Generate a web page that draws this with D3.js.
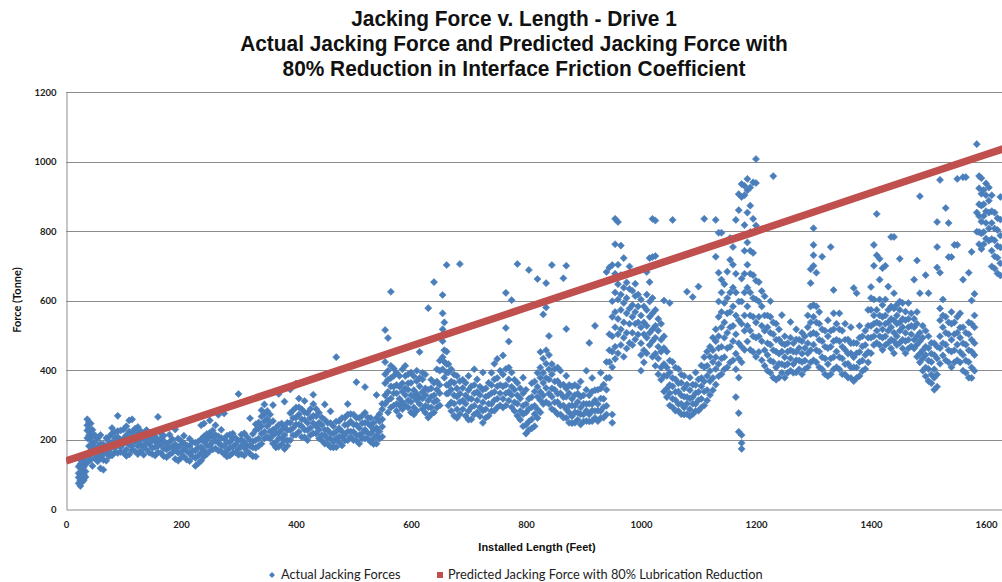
<!DOCTYPE html>
<html>
<head>
<meta charset="utf-8">
<script src="https://cdn.jsdelivr.net/npm/d3@7"></script>
<style>
  html, body { margin: 0; padding: 0; background: #fff; }
  svg { display: block; }
</style>
</head>
<body>
<svg id="chart" width="1002" height="582"></svg>
<script>
// Measured jacking force readings, grouped by stretch of the drive.
// Each row: [installed length (ft), force reading (tonne), force reading, ...]
const readings0to400 = [
  [22,74,91,103,122],[25,66,82,101,129,141],[28,78,96,114,127],[31,83,99,121,138],[34,92,108,131,149],
  [37,204,226,241,258,133],[40,181,212,233,249,152],[43,168,197,224,246,141],[46,161,183,209,228,124],
  [50,146,174,192,213],[55,137,152,178,203],[60,117,148,166,188,213],[65,113,141,157,186],[70,139,163,178,204],
  [75,152,166,193,208],[80,154,179,191,217,233],[85,163,176,204,221],[90,161,189,207,224,268],[95,164,177,198,226],
  [100,161,188,203,229],[105,153,171,199,212,238],[110,157,184,196,223,255],[115,169,181,209,221,258],[120,166,194,207,231],
  [125,158,181,198,219,236],[130,167,186,203,224],[135,156,179,201,214],[140,171,189,208,227],[145,162,187,204],
  [150,158,176,199,216],[155,154,178,194,209],[160,163,181,197,265],[165,161,186,203,218],[170,152,174,196,211],
  [175,149,171,187],[180,156,177,193,214],[185,162,178,201],[190,144,169,186,229],[195,139,162,178,203],
  [200,147,163,184,196],[205,151,172,189,211],[210,142,167,183],[215,138,159,181,202],[220,151,168,192],
  [225,124,147,168,191],[230,131,153,177,194],[235,139,162,178,201,241],[240,151,168,193,209,246],[245,158,182,198,216],
  [250,167,183,207,219,255],[255,171,192,208,226],[260,174,196,213,241],[265,168,191,209,271],[270,166,183,204,228],
  [275,158,181,202,275],[280,151,168,192,211],[285,154,177,193,214],[290,161,178,202,217],[295,163,186,204],
  [300,156,173,197,331],[305,158,182,199,214],[310,154,176,193,218],[315,166,183,207],[320,159,181,198,261],
  [325,152,177,194,216],[330,151,176,198,227,244],[335,181,203,232,249],[340,188,217,238,266,284],[345,203,222,252,273,301],
  [350,208,238,259,282],[355,202,223,248,272],[360,188,212,228,253,299],[365,177,193,218,233],[370,179,203,219,242,331],
  [375,186,204,227,246],[380,173,197,213,236,309],[385,182,198,227,248],[390,198,227,248,276,344],[395,212,233,262,284],
  [400,214,243,263,292,361]
];

const readings400to800 = [
  [405,222,243,272,293,318],[410,207,238,258,287],[415,206,228,257,278,311],[420,198,227,248,276],[425,212,233,262,288],
  [430,218,247,268,302,329],[435,217,238,267,288],[440,203,228,248,277],[445,197,213,242,263],[450,188,212,228,257,301],
  [455,187,203,227,248],[460,178,202,218,247,281],[465,177,193,217,238],[470,178,203,223,252,437],[475,192,208,232,253],
  [480,183,207,223,262],[485,197,213,242,263],[490,198,223,243,272,302],[495,207,223,252,273],[500,198,222,243,272],
  [505,197,213,242,263,365],[510,188,212,233,262],[515,202,218,247,268],[520,203,228,248,277,351],[525,202,218,247,263],
  [530,193,217,238,262],[535,187,203,227,248],[540,188,212,233,262,328],[545,202,223,252,273],[550,208,237,258,287,303],
  [555,302,327,362,388,423,515],[560,278,313,337,372,398,492],[565,292,318,353,377,412,625],[570,298,333,352,383,404],
  [575,282,302,333,357,392],[580,268,298,317,352,383],[585,287,307,338,362,402],[590,298,328,347,383,412],
  [595,292,312,343,362,388],[600,278,308,327,363,393],[605,272,292,323,342,382],[610,283,313,332,368,398],
  [615,302,322,353,377,452],[620,288,318,337,373,392],[625,277,297,328,347,387],[630,263,293,312,343,578],
  [635,272,292,323,347,372],[640,278,308,327,363,653],[645,292,312,343,367,402],[650,298,333,357,398,427],
  [655,402,437,483,517,563,616],[658,378,423,457,503,537],[662,332,357,393,417,453,702],[665,298,333,357,393,417],
  [670,282,307,343,367,402],[675,268,303,327,363,387],[680,262,287,323,347,383],[685,273,308,332,368,705],
  [690,287,312,348,372],[695,268,303,327,363],[700,257,282,318,342,383],[705,258,293,317,353],[710,272,297,333,357,402],
  [715,278,313,337,373],[720,267,292,328,352],[725,248,283,307,343,393],[730,262,287,323,347],[735,268,303,327,363],
  [740,282,302,333,357,392],[745,283,313,337,373,418],[750,292,317,353,377,432],[755,298,333,357,398],
  [760,292,317,353,387,442],[765,298,333,357,403,521,622],[770,312,337,373,407,482],[775,293,328,352,393,601],
  [780,282,307,343,372],[785,268,303,327,363,705],[790,257,282,318,347],[795,238,273,297,333,378],[800,217,242,278,302,343]
];

const readings800to1200 = [
  [805,227,252,288,317,688],[810,232,258,293,322,362],[815,238,273,297,338,367],[820,262,287,323,352,392,662],
  [825,278,313,337,378,407,452],[830,302,327,363,392,433,560],[835,308,348,377,418,457,580,650],[840,302,332,373,402,443,498],
  [845,288,323,347,388,417,702],[850,282,307,343,367,403],[855,273,308,332,368,407],[860,272,297,333,357,398],
  [865,263,298,322,358,664],[870,262,287,323,347,383,518,700],[875,248,278,297,333,357],[880,247,267,298,317,353],
  [885,248,278,297,328,357],[890,257,277,308,332,352],[895,243,273,292,323,367],[900,252,272,303,327],
  [905,253,283,302,343,398],[910,252,272,303,327,478],[915,253,283,302,338,377],[920,262,282,313,342,527],
  [925,253,283,302,343],[930,262,282,318,347,392],[935,263,293,317,358],[940,272,297,343,377,423,682],
  [945,378,423,457,503,695],[950,248,272,408,453,497,553,598,702],[955,432,467,523,567,623,677,762,835],
  [960,448,503,547,603,647,703,826],[965,472,517,573,617,673,758],[970,438,493,537,593,637,722],[975,462,507,563,607,652],
  [980,478,533,577,633,698],[985,472,507,553,587,628],[990,488,533,567,613,648],[995,502,537,583,617],
  [1000,398,443,477,523,557,603],[1005,422,457,503,537,583],[1010,448,493,527,573,617,682],[1015,472,507,553,597,653,722],
  [1020,438,483,517,563,607,725,835],[1025,412,447,493,527,573,728,830],[1030,388,433,467,513,547],[1035,372,407,453,487,533],
  [1040,338,383,417,463,497,600],[1045,322,347,383,407,453],[1050,298,333,357,393,427,593],[1055,292,317,353,377,423,832],
  [1060,283,313,337,373,407],[1065,282,302,338,362,403],[1070,273,303,327,363,387],[1075,272,292,323,347,383],
  [1080,273,303,322,358,625],[1085,267,287,318,342,378],[1090,273,303,322,358,610],[1095,282,302,333,357,393],
  [1100,283,313,337,373,640],[1105,292,317,353,377,413],[1110,298,338,367,408,437,835],[1115,312,342,383,412,453],
  [1120,328,368,397,438,467],[1125,342,377,423,457,493],[1130,358,403,437,483,517,832,726],[1135,382,417,463,497,553,597,795,680],
  [1140,388,433,467,523,567,623,795,660],[1145,402,437,493,537,593,647],[1150,408,463,507,563,607,683],
  [1155,422,467,523,567,623,717,780],[1160,428,483,527,583,637,703,754],[1165,402,447,503,557,623,677,322,832],
  [1170,378,433,477,543,597,276,222,906,860],[1175,213,190,173,422,467,533,597,663,898,935],
  [1180,458,513,557,623,677,743,817,903,930],[1185,482,527,583,637,703,767,853,917,950],
  [1190,458,513,557,623,677,743,797,873,925],[1195,452,497,553,607,673,737,835,940],[1200,438,493,537,603,657,816,938,1007]
];

const readings1200to1630 = [
  [1205,452,497,553,597,653],[1210,428,483,527,583,627],[1215,412,457,513,557,612],[1220,398,443,477,523,557],
  [1225,392,427,473,507,553,598],[1230,378,423,457,503,537,958],[1235,372,407,453,487,533],[1240,378,418,447,488,517],
  [1245,392,417,453,477,558],[1250,378,413,437,473,497],[1255,392,417,453,477],[1260,398,433,457,493,538],
  [1265,392,417,453,477],[1270,393,428,452,488,517],[1275,402,427,463,487],[1280,388,423,447,483,507],
  [1285,402,427,463,497],[1290,408,448,477,523,557],[1295,422,457,503,537,583,650,690],[1300,428,473,507,553,587,700,730,760,808],
  [1305,422,457,503,537,583,680],[1310,408,453,487,533,567],[1315,402,437,483,517,726],[1320,388,433,467,513],
  [1325,382,417,463,497,543],[1330,388,433,467,513,754],[1335,402,437,483,517,563,630],[1340,408,453,487,533],
  [1345,402,437,483,517,563],[1350,388,433,467,513],[1355,387,417,458,487,533],[1360,378,418,447,488],
  [1365,377,407,448,477,523],[1370,368,408,437,478,636],[1375,377,407,448,477,621],[1380,383,423,452,493,527],
  [1385,397,427,468,497],[1390,403,443,472,513],[1395,422,452,493,527,573],[1400,448,493,527,573,607,639],
  [1405,472,497,533,557,603,700,760],[1410,478,513,537,573,849,730],[1415,472,497,533,557,603,720,660],
  [1420,458,493,517,553,587,693],[1425,472,497,533,557,603,700],[1430,478,513,537,573,640],
  [1435,462,487,523,547,583,783],[1440,448,483,507,543,577,783,621],[1445,472,497,533,557,588],
  [1450,478,513,537,573,597,720],[1455,462,487,523,547,593],[1460,448,483,507,543,568],[1465,462,487,523,547,593],
  [1470,468,503,527,563],[1475,462,487,523,547,660],[1480,438,473,497,533,567,715],[1485,422,447,483,507,900,621],
  [1490,398,433,457,493,527],[1495,382,407,443,467,513,673],[1500,368,403,427,463,497,621],[1505,362,387,423,447,478],
  [1510,343,378,402,443,477],[1515,352,387,433,467,826,754,695],[1520,418,463,497,543,577,947,680],
  [1525,442,477,523,557,603],[1530,428,473,507,553,866],[1535,422,457,503,537,823,725],[1540,408,453,487,533,567,725],
  [1545,422,457,503,537,760],[1550,428,473,507,553,950,760],[1555,422,452,493,522,563],[1560,398,443,477,523,955,660],
  [1565,392,427,473,507,955],[1570,378,423,457,503,537,680],[1575,377,407,453,487,533,600,740],[1580,398,443,477,523,557,619],
  [1584,1050,798,853],[1588,762,797,843,877,923,958],[1592,748,793,827,873,907,952],[1596,762,797,843,877,918],
  [1600,778,823,857,903,937],[1605,772,807,853,887,925],[1610,698,743,777,823,857,903],[1615,692,727,773,807,853],
  [1620,678,723,757,803,837],[1625,672,707,753,787,833,898]
];

// Predicted jacking force (80% lubrication reduction)
const predictedLength = [0, 200, 400, 600, 800, 1000, 1200, 1400, 1600, 1660];
const predictedForce  = [138, 248, 358, 469, 579, 689, 799, 910, 1020, 1053];

// Axis ticks
const xTicks = [0, 200, 400, 600, 800, 1000, 1200, 1400, 1600];
const yTicks = [0, 200, 400, 600, 800, 1000, 1200];

const titleLines = [
  "Jacking Force v. Length - Drive 1",
  "Actual Jacking Force and Predicted Jacking Force with",
  "80% Reduction in Interface Friction Coefficient"
];

const blue = "#4a7ebb";
const red = "#c0504d";

const svg = d3.select("#chart");
const plot = { left: 66, top: 92, bottom: 509 };

const x = d3.scaleLinear().domain([0, 1800]).range([plot.left, plot.left + 1800 * 0.575]);
const y = d3.scaleLinear().domain([0, 1200]).range([plot.bottom, plot.top]);

// Title
svg.append("g").selectAll("text").data(titleLines).join("text")
  .attr("transform", (d, i) => `translate(514,${26 + i * 25}) scale(0.95,1)`)
  .attr("text-anchor", "middle")
  .attr("font-family", "'Liberation Sans', Arial, sans-serif")
  .attr("font-weight", "bold").attr("font-size", 22).attr("fill", "#111")
  .text(d => d);

// Gridlines
svg.append("g").selectAll("line").data(yTicks.filter(t => t > 0)).join("line")
  .attr("x1", plot.left).attr("x2", 1002)
  .attr("y1", d => Math.round(y(d)) + 0.5).attr("y2", d => Math.round(y(d)) + 0.5)
  .attr("stroke", "#8c8c8c").attr("stroke-width", 1);

// Axes
const fmt = d3.format("d");
const yAxis = d3.axisLeft(y).tickValues(yTicks).tickFormat(fmt).tickSize(0).tickPadding(10);
const gy = svg.append("g").attr("transform", `translate(${plot.left + 0.5},0)`).call(yAxis);
gy.select(".domain").attr("stroke", "#8c8c8c");
gy.selectAll("text").attr("font-family", "Lato, 'Open Sans', sans-serif")
  .attr("font-weight", "bold").attr("font-size", 9.5).attr("fill", "#222");

const xAxis = d3.axisBottom(x).tickValues(xTicks).tickFormat(fmt).tickSize(0).tickPadding(12);
const gx = svg.append("g").attr("transform", `translate(0,${Math.round(y(0)) + 0.5})`).call(xAxis);
gx.select(".domain").attr("stroke", "#8c8c8c");
gx.selectAll("text").attr("font-family", "Lato, 'Open Sans', sans-serif")
  .attr("font-weight", "bold").attr("font-size", 9.5).attr("fill", "#222");

// Axis titles
svg.append("text")
  .attr("transform", "translate(21,300) rotate(-90)")
  .attr("text-anchor", "middle")
  .attr("font-family", "Lato, 'Open Sans', sans-serif")
  .attr("font-weight", "bold").attr("font-size", 11).attr("fill", "#111")
  .text("Force (Tonne)");

svg.append("text")
  .attr("x", 537).attr("y", 551)
  .attr("text-anchor", "middle")
  .attr("font-family", "'Liberation Sans', Arial, sans-serif")
  .attr("font-weight", "bold").attr("font-size", 11).attr("fill", "#111")
  .text("Installed Length (Feet)");

// Plot clip
svg.append("defs").append("clipPath").attr("id", "plotClip")
  .append("rect").attr("x", plot.left).attr("y", 60).attr("width", 1002 - plot.left).attr("height", 460);

const marks = svg.append("g").attr("clip-path", "url(#plotClip)");

// Actual readings
const actual = [readings0to400, readings400to800, readings800to1200, readings1200to1630]
  .flat()
  .flatMap(([ft, ...forces]) => forces.map(f => ({ ft, f })));

const diamond = d3.symbol().type(d3.symbolDiamond2).size(32);
marks.append("g").selectAll("path").data(actual).join("path")
  .attr("transform", d => `translate(${x(d.ft)},${y(d.f)})`)
  .attr("d", diamond)
  .attr("fill", blue)
  .attr("stroke", blue).attr("stroke-width", 0.6);

// Predicted force
const predicted = predictedLength.map((ft, i) => ({ ft, f: predictedForce[i] }));
marks.append("path").datum(predicted)
  .attr("d", d3.line().x(d => x(d.ft)).y(d => y(d.f)))
  .attr("fill", "none").attr("stroke", red).attr("stroke-width", 7.5);

// Legend
const legend = svg.append("g").attr("font-family", "Lato, 'Open Sans', sans-serif")
  .attr("font-size", 12.8).attr("fill", "#222");
legend.append("path").attr("transform", "translate(272,575)")
  .attr("d", d3.symbol().type(d3.symbolDiamond2).size(22)).attr("fill", blue);
legend.append("text").attr("x", 281).attr("y", 579).text("Actual Jacking Forces");
legend.append("rect").attr("x", 437).attr("y", 572).attr("width", 6).attr("height", 6).attr("fill", red);
legend.append("text").attr("x", 448).attr("y", 579).text("Predicted Jacking Force with 80% Lubrication Reduction");
</script>
</body>
</html>
